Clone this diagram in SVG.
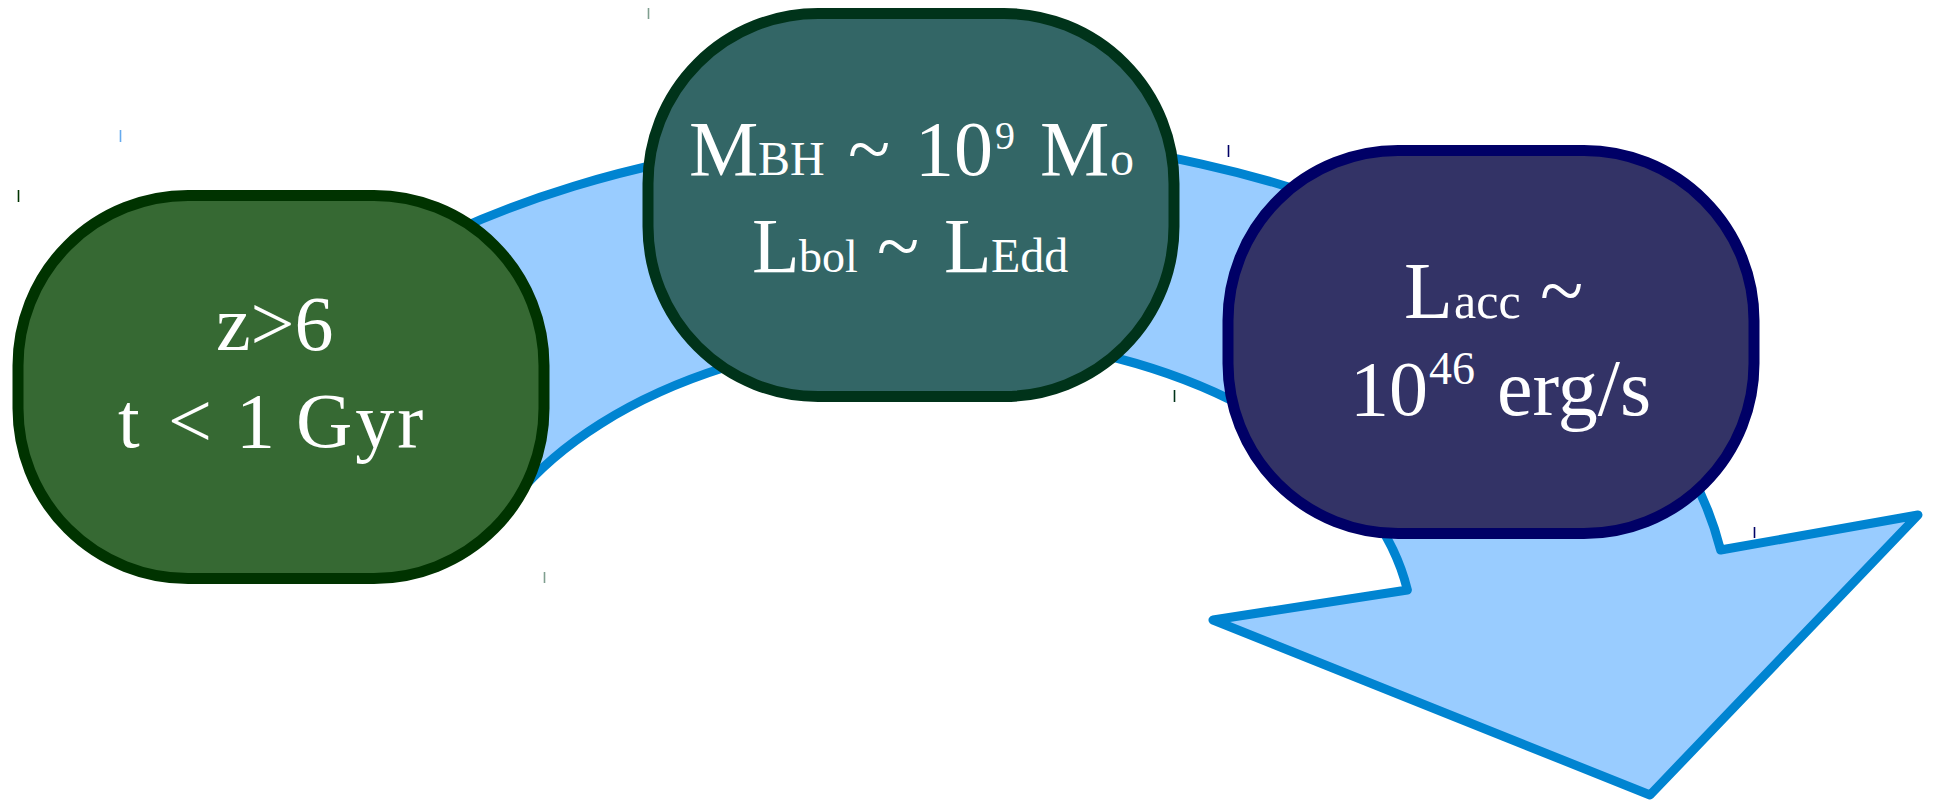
<svg xmlns="http://www.w3.org/2000/svg" width="1935" height="805" viewBox="0 0 1935 805">
  <style>
    .t { font-family: "Liberation Serif", "Times New Roman", serif; fill: #ffffff; }
    .node { stroke-width: 11; }
    .tick { stroke-width: 1.6; }
  </style>
  <rect x="0" y="0" width="1935" height="805" fill="#ffffff"/>
  <g id="connectors">
    <path id="big-arrow" d="M 400,257.96 A 800 490 0 0 1 1720.6,550 L 1918,515 L 1650,795 L 1213,620 L 1407.4,590 A 476 300 0 0 0 515,497.2 Z" fill="#99ccff" stroke="#0084d1" stroke-width="9" stroke-linejoin="round"/>
  </g>
  <g id="node-z6">
    <rect class="node" x="18" y="195.5" width="526" height="383" rx="170" ry="170" fill="#366933" stroke="#003300"/>
    <text class="t" x="216" y="350" font-size="78">z&gt;6</text>
    <text class="t" y="447" font-size="78"><tspan x="118">t</tspan><tspan x="168">&lt;</tspan><tspan x="236">1</tspan><tspan x="296" letter-spacing="3">Gyr</tspan></text>
  </g>
  <g id="node-mbh">
    <rect class="node" x="648" y="13.5" width="526" height="383" rx="170" ry="170" fill="#336666" stroke="#00331a"/>
    <text class="t" y="175"><tspan x="689" font-size="78">M</tspan><tspan x="758" font-size="48">BH</tspan><tspan x="848" font-size="78">~</tspan><tspan x="915" font-size="78">10</tspan><tspan x="995" y="149" font-size="40">9</tspan><tspan x="1040" y="175" font-size="78">M</tspan><tspan x="1110" font-size="48">o</tspan></text>
    <text class="t" y="272"><tspan x="752" font-size="78">L</tspan><tspan x="799" font-size="46">bol</tspan><tspan x="877" font-size="78">~</tspan><tspan x="944" font-size="78">L</tspan><tspan x="991" font-size="48">Edd</tspan></text>
  </g>
  <g id="node-lacc">
    <rect class="node" x="1228" y="150.5" width="526" height="383" rx="170" ry="170" fill="#333366" stroke="#000066"/>
    <text class="t" y="318"><tspan x="1404" font-size="80">L</tspan><tspan x="1454" font-size="50">acc</tspan><tspan x="1540" font-size="80">~</tspan></text>
    <text class="t" y="415"><tspan x="1350" font-size="78">10</tspan><tspan x="1429" y="384" font-size="46">46</tspan><tspan x="1497" y="415" font-size="80">erg/s</tspan></text>
  </g>
  <g id="marks">
    <line class="tick" x1="18.5" y1="190" x2="18.5" y2="202" stroke="#003300"/>
    <line class="tick" x1="120.5" y1="130" x2="120.5" y2="142" stroke="#66aaee"/>
    <line class="tick" x1="648.5" y1="8" x2="648.5" y2="19" stroke="#7f9f8f"/>
    <line class="tick" x1="544.5" y1="572" x2="544.5" y2="583" stroke="#7f9f8f"/>
    <line class="tick" x1="1228.5" y1="145" x2="1228.5" y2="157" stroke="#000066"/>
    <line class="tick" x1="1174.5" y1="390" x2="1174.5" y2="402" stroke="#003319"/>
    <line class="tick" x1="1754.5" y1="527" x2="1754.5" y2="538" stroke="#000066"/>
  </g>
</svg>
